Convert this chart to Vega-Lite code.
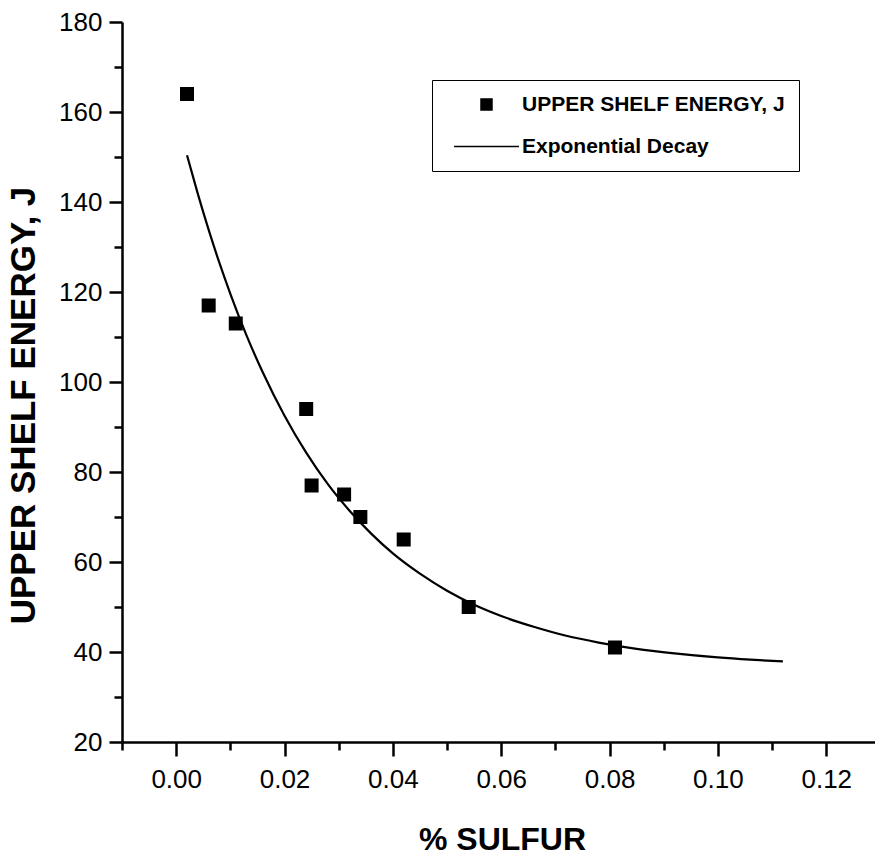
{
  "$schema": "https://vega.github.io/schema/vega-lite/v6.json",
  "autosize": "none",
  "width": 753,
  "height": 720,
  "padding": {"left": 122, "top": 22, "right": 0, "bottom": 117},
  "background": "white",
  "config": {
    "view": {"stroke": null},
    "axis": {
      "domainColor": "black", "domainWidth": 2.5, "tickColor": "black", "tickWidth": 2.5,
      "labelFont": "Liberation Sans", "labelFontSize": 26, "labelColor": "black",
      "titleFont": "Liberation Sans", "titleFontWeight": "bold", "titleColor": "black",
      "grid": false, "labelFlush": false, "labelOverlap": false
    }
  },
  "datasets": {
    "points": [
      {"sulfur": 0.002, "use": 164, "series": "UPPER SHELF ENERGY, J"},
      {"sulfur": 0.006, "use": 117, "series": "UPPER SHELF ENERGY, J"},
      {"sulfur": 0.011, "use": 113, "series": "UPPER SHELF ENERGY, J"},
      {"sulfur": 0.024, "use": 94, "series": "UPPER SHELF ENERGY, J"},
      {"sulfur": 0.025, "use": 77, "series": "UPPER SHELF ENERGY, J"},
      {"sulfur": 0.031, "use": 75, "series": "UPPER SHELF ENERGY, J"},
      {"sulfur": 0.034, "use": 70, "series": "UPPER SHELF ENERGY, J"},
      {"sulfur": 0.042, "use": 65, "series": "UPPER SHELF ENERGY, J"},
      {"sulfur": 0.054, "use": 50, "series": "UPPER SHELF ENERGY, J"},
      {"sulfur": 0.081, "use": 41, "series": "UPPER SHELF ENERGY, J"}
    ],
    "curve": [
      {"sulfur": 0.002, "use": 150.4},
      {"sulfur": 0.004, "use": 141.8},
      {"sulfur": 0.006, "use": 133.8},
      {"sulfur": 0.008, "use": 126.4},
      {"sulfur": 0.010, "use": 119.6},
      {"sulfur": 0.013, "use": 110.3},
      {"sulfur": 0.016, "use": 102.1},
      {"sulfur": 0.020, "use": 92.5},
      {"sulfur": 0.024, "use": 84.3},
      {"sulfur": 0.028, "use": 77.3},
      {"sulfur": 0.032, "use": 71.4},
      {"sulfur": 0.036, "use": 66.3},
      {"sulfur": 0.040, "use": 61.9},
      {"sulfur": 0.045, "use": 57.4},
      {"sulfur": 0.050, "use": 53.6},
      {"sulfur": 0.055, "use": 50.5},
      {"sulfur": 0.060, "use": 48.0},
      {"sulfur": 0.066, "use": 45.6},
      {"sulfur": 0.072, "use": 43.6},
      {"sulfur": 0.078, "use": 42.1},
      {"sulfur": 0.085, "use": 40.7},
      {"sulfur": 0.092, "use": 39.7},
      {"sulfur": 0.100, "use": 38.8},
      {"sulfur": 0.106, "use": 38.3},
      {"sulfur": 0.112, "use": 37.9}
    ]
  },
  "encoding": {
    "x": {
      "field": "sulfur", "type": "quantitative",
      "scale": {"domain": [-0.01, 0.129], "nice": false, "zero": false},
      "axis": {
        "values": [-0.01, 0, 0.01, 0.02, 0.03, 0.04, 0.05, 0.06, 0.07, 0.08, 0.09, 0.1, 0.11, 0.12],
        "labelExpr": "abs(round(datum.value*100)) % 2 === 0 ? format(datum.value, '.2f') : ''",
        "tickSize": {"condition": {"test": "abs(round(datum.value*100)) % 2 === 0", "value": 14}, "value": 8},
        "labelPadding": 10,
        "title": "% SULFUR", "titleFontSize": 32,
        "titleX": 380, "titleY": 97, "titleAlign": "center", "titleBaseline": "middle", "titleAngle": 0
      }
    },
    "y": {
      "field": "use", "type": "quantitative",
      "scale": {"domain": [20, 180], "nice": false, "zero": false},
      "axis": {
        "values": [20, 30, 40, 50, 60, 70, 80, 90, 100, 110, 120, 130, 140, 150, 160, 170, 180],
        "labelExpr": "datum.value % 20 === 0 ? format(datum.value, 'd') : ''",
        "tickSize": {"condition": {"test": "datum.value % 20 === 0", "value": 13}, "value": 8},
        "labelPadding": 7,
        "title": "UPPER SHELF ENERGY, J", "titleFontSize": 35,
        "titleX": -99, "titleY": 383, "titleAlign": "center", "titleBaseline": "middle", "titleAngle": -90
      }
    }
  },
  "layer": [
    {
      "data": {"name": "curve"},
      "mark": {"type": "line", "color": "black", "strokeWidth": 2.2, "interpolate": "monotone"}
    },
    {
      "data": {"name": "points"},
      "mark": {"type": "point", "filled": true, "fill": "black", "stroke": "black", "strokeWidth": 2, "opacity": 1, "size": 144},
      "encoding": {
        "shape": {
          "field": "series", "type": "nominal",
          "scale": {"domain": ["UPPER SHELF ENERGY, J", "Exponential Decay"], "range": ["M-1,-1H1V1H-1Z", "M-5.9,0H5.9"]},
          "legend": {
            "title": null, "orient": "none", "legendX": 310, "legendY": 58,
            "strokeColor": "black", "padding": 14,
            "symbolSize": 121, "symbolOffset": 30, "labelOffset": 25,
            "labelFont": "Liberation Sans", "labelFontWeight": "bold", "labelFontSize": 21, "labelColor": "black",
            "labelLimit": 500, "rowPadding": 20,
            "encode": {
              "symbols": {"stroke": {"value": "black"}, "strokeWidth": {"value": 2.2}, "fill": {"value": "black"}, "opacity": {"value": 1}},
              "legend": {"strokeWidth": {"value": 1.5}}
            }
          }
        }
      }
    }
  ]
}
